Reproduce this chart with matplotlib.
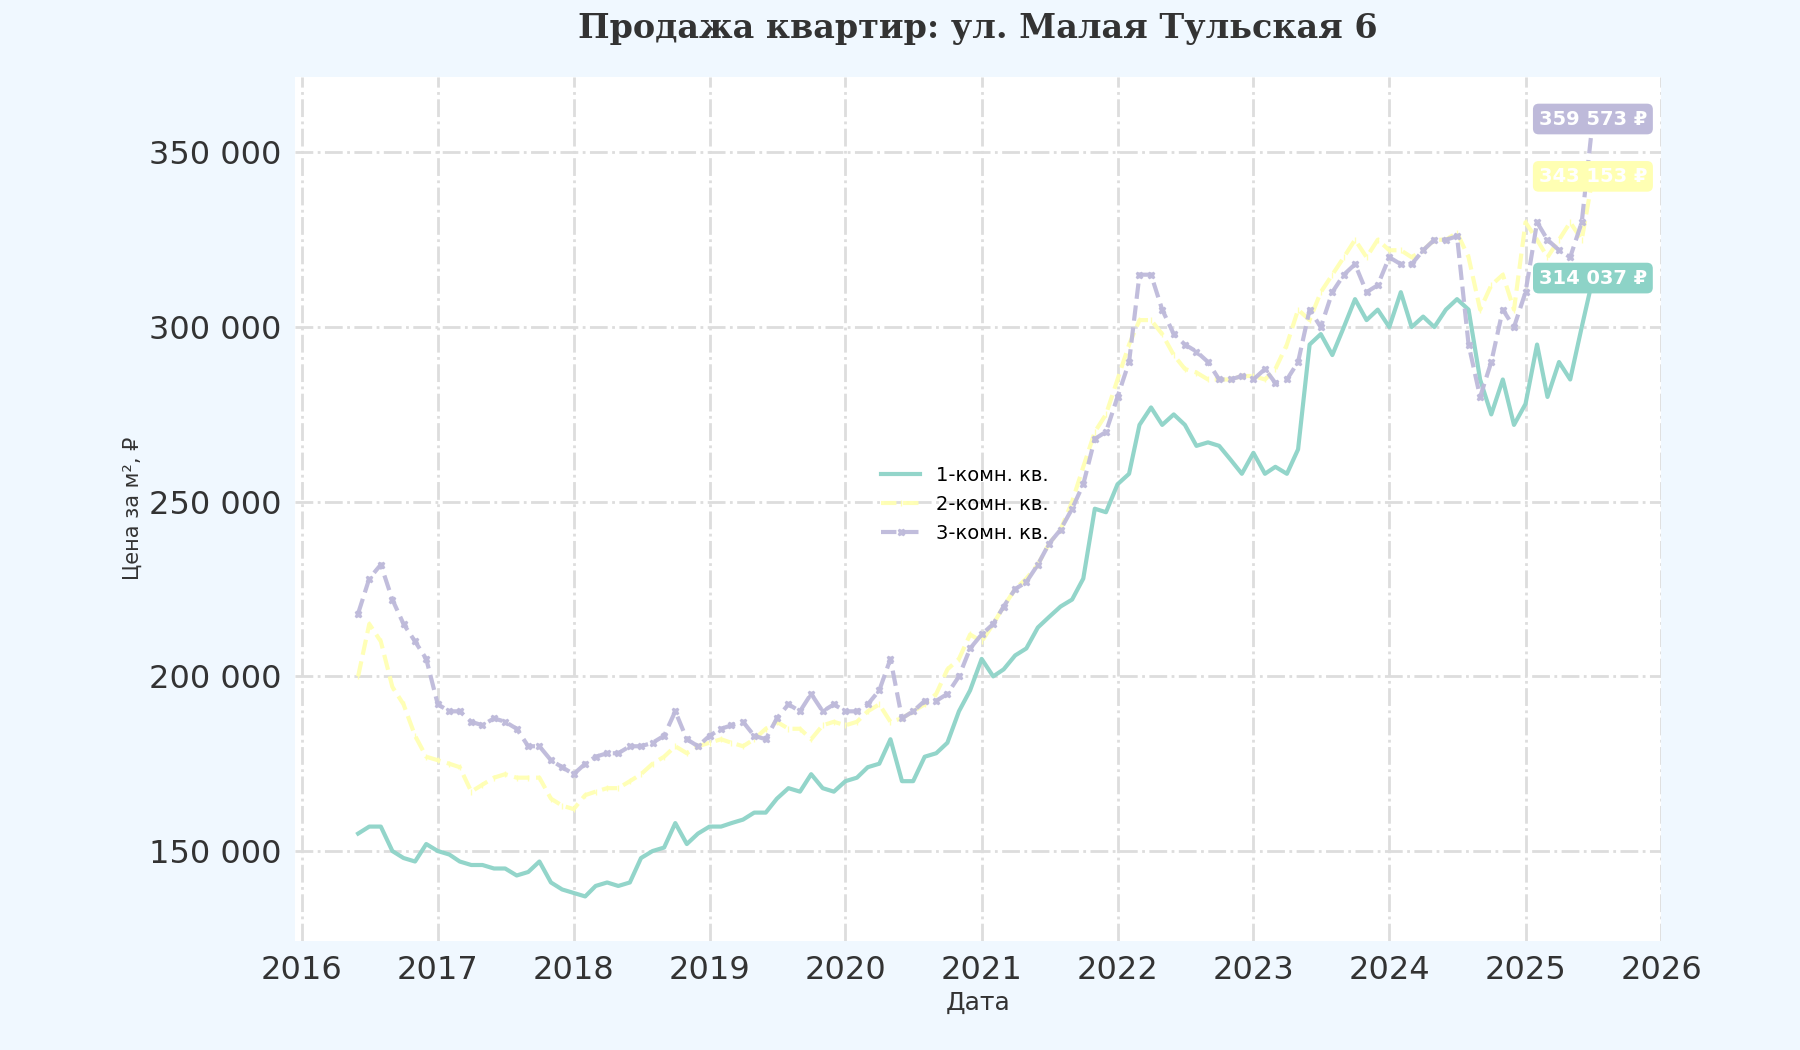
import matplotlib
matplotlib.use("Agg")
import matplotlib.pyplot as plt
import matplotlib.dates as mdates
import pandas as pd

dates = pd.date_range("2016-06-01", "2025-07-01", freq="MS")
one_room = [155,157,157,150,148,147,152,150,149,147,146,146,145,145,143,144,147,141,139,
138,137,140,141,140,141,148,150,151,158,152,155,157,157,158,159,161,161,165,168,167,172,168,167,
170,171,174,175,182,170,170,177,178,181,190,196,205,200,202,206,208,214,217,220,222,228,248,247,
255,258,272,277,272,275,272,266,267,266,262,258,264,258,260,258,265,295,298,292,300,308,302,305,
300,310,300,303,300,305,308,305,285,275,285,272,278,295,280,290,285,300,314.037]
two_room = [200,215,210,197,192,183,177,176,175,174,167,169,171,172,171,171,171,165,163,
162,166,167,168,168,170,172,175,177,180,178,180,181,182,181,180,182,185,187,185,185,182,186,187,
186,187,190,192,187,188,190,192,195,202,205,212,210,215,220,225,228,232,238,242,250,260,270,275,
285,295,302,302,298,292,288,287,285,285,285,286,286,285,288,295,305,302,310,315,320,325,320,325,
322,322,320,322,325,325,327,320,305,312,315,305,330,325,320,325,330,325,343.153]
three_room = [218,228,232,222,215,210,205,192,190,190,187,186,188,187,185,180,180,176,174,
172,175,177,178,178,180,180,181,183,190,182,180,183,185,186,187,183,182,188,192,190,195,190,192,
190,190,192,196,205,188,190,193,193,195,200,208,212,215,220,225,227,232,238,242,248,255,268,270,
280,290,315,315,305,298,295,293,290,285,285,286,285,288,284,285,290,305,300,310,315,318,310,312,
320,318,318,322,325,325,326,295,280,290,305,300,310,330,325,322,320,330,359.573]
labels = ["1-комн. кв.", "2-комн. кв.", "3-комн. кв."]
colors = ["#8dd3c7", "#ffffb3", "#bebada"]

fig = plt.figure(figsize=(18, 10.5), dpi=100, facecolor="#f0f8ff")
ax = fig.add_axes([0.164, 0.104, 0.759, 0.823])
ax.set_facecolor("white")
series = [one_room, two_room, three_room]
styles = [dict(ls="-", marker=None), dict(ls="--", marker="|", ms=5),
          dict(ls="--", marker="X", ms=5)]
for s, lab, c, st in zip(series, labels, colors, styles):
    vals = [v * 1000 for v in s]
    ax.plot(dates, vals, color=c, lw=3, label=lab, alpha=0.95, **st)
    ax.annotate(f"{vals[-1]:,.0f} ₽".replace(",", " "), (dates[-1], vals[-1]),
                ha="center", va="center", color="white", fontsize=14, fontweight="bold",
                bbox=dict(boxstyle="round,pad=0.3", fc=c, ec="none"))

ax.set_xlim(pd.Timestamp("2015-12-15"), pd.Timestamp("2026-01-01"))
ax.set_ylim(124300, 371700)
ax.xaxis.set_major_locator(mdates.YearLocator())
ax.xaxis.set_major_formatter(mdates.DateFormatter("%Y"))
ax.yaxis.set_major_formatter(matplotlib.ticker.FuncFormatter(lambda v, p: f"{v:,.0f}".replace(",", " ")))
ax.grid(True, ls="-.", color="#dddddd", lw=2)
for sp in ax.spines.values():
    sp.set_visible(False)
ax.tick_params(labelsize=23, length=0, colors="#333333", pad=10)
ax.set_xlabel("Дата", fontsize=18, color="#333333")
ax.set_ylabel("Цена за м², ₽", fontsize=15, color="#333333")
ax.set_title("Продажа квартир: ул. Малая Тульская 6", family="DejaVu Serif",
             fontweight="bold", fontsize=24, color="#333333", pad=28)
ax.legend(loc="center", bbox_to_anchor=(0.49, 0.505), frameon=False, fontsize=14)
fig.savefig("out.png", dpi=100, facecolor=fig.get_facecolor())
